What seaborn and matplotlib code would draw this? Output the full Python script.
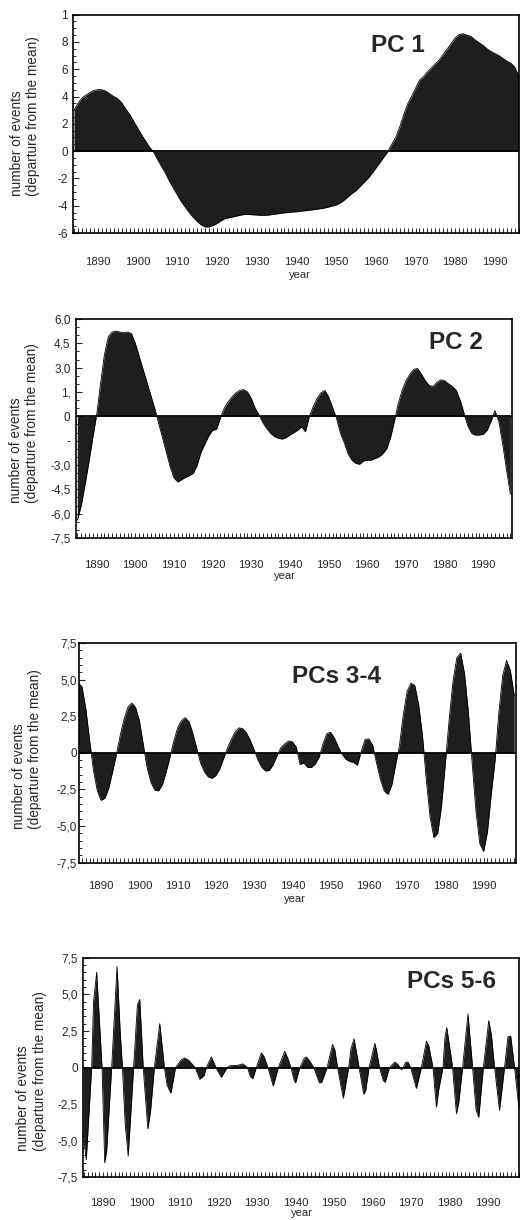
import numpy as np
import matplotlib.pyplot as plt
from matplotlib.ticker import MultipleLocator
import seaborn as sns

sns.set_style("ticks")
plt.rcParams['font.family'] = ['Liberation Sans', 'DejaVu Sans']

# PC 1, yearly values from 1884
pc1 = [3.0, 3.5, 3.9, 4.1, 4.3, 4.45, 4.5, 4.5, 4.4, 4.2,
       4.0, 3.85, 3.55, 3.1, 2.7, 2.2, 1.7, 1.2, 0.75, 0.3,
       -0.05, -0.6, -1.1, -1.6, -2.2, -2.7, -3.2, -3.7, -4.1, -4.5,
       -4.85, -5.15, -5.4, -5.55, -5.55, -5.45, -5.3, -5.1, -4.95, -4.88,
       -4.82, -4.75, -4.68, -4.64, -4.64, -4.66, -4.68, -4.7, -4.7, -4.68,
       -4.64, -4.6, -4.56, -4.52, -4.49, -4.46, -4.44, -4.4, -4.37, -4.34,
       -4.3, -4.26, -4.22, -4.17, -4.1, -4.02, -3.95, -3.8, -3.6, -3.35,
       -3.1, -2.9, -2.6, -2.3, -2.0, -1.65, -1.25, -0.85, -0.45, -0.05,
       0.5, 1.0, 1.75, 2.65, 3.45, 4.0, 4.6, 5.2, 5.45, 5.8,
       6.1, 6.4, 6.7, 7.1, 7.5, 7.9, 8.3, 8.55, 8.6, 8.5,
       8.4, 8.15, 7.95, 7.75, 7.5, 7.3, 7.15, 7.0, 6.8, 6.6,
       6.45, 6.15, 5.5]
years1 = np.arange(1884, 1884 + len(pc1))

# PC 2, yearly values from 1885
pc2 = [-6.4, -5.5, -4.2, -2.8, -1.3, 0.1, 2.0, 3.8, 4.9, 5.2,
       5.25, 5.2, 5.15, 5.2, 5.1, 4.5, 3.7, 2.9, 2.1, 1.3,
       0.5, -0.4, -1.3, -2.2, -3.1, -3.8, -4.05, -3.9, -3.75, -3.65,
       -3.5, -3.0, -2.2, -1.7, -1.2, -0.85, -0.8, -0.1, 0.5, 0.9,
       1.2, 1.45, 1.6, 1.65, 1.5, 1.1, 0.5, 0.1, -0.4, -0.75,
       -1.05, -1.25, -1.35, -1.4, -1.3, -1.15, -1.0, -0.85, -0.65, -0.95,
       0.0, 0.6, 1.1, 1.45, 1.6, 1.2, 0.55, -0.1, -1.0, -1.6,
       -2.3, -2.7, -2.9, -2.95, -2.75, -2.7, -2.7, -2.6, -2.5, -2.3,
       -2.0, -1.3, -0.3, 0.8, 1.6, 2.2, 2.6, 2.9, 2.95, 2.6,
       2.2, 1.9, 1.85, 2.1, 2.25, 2.2, 2.0, 1.85, 1.6, 1.0,
       0.2, -0.6, -1.05, -1.15, -1.15, -1.1, -0.85, -0.3, 0.35, -0.3,
       -1.7, -3.3, -4.8]
years2 = np.arange(1885, 1885 + len(pc2))

# PCs 3-4, yearly values from 1884
pc34 = [4.8, 4.5, 3.0, 0.8, -1.2, -2.6, -3.25, -3.1, -2.4, -1.3,
        -0.1, 1.2, 2.3, 3.1, 3.4, 3.1, 2.2, 0.6, -1.0, -2.0,
        -2.55, -2.6, -2.2, -1.3, -0.3, 0.8, 1.7, 2.2, 2.4, 2.1,
        1.3, 0.3, -0.7, -1.3, -1.65, -1.75, -1.55, -1.1, -0.4, 0.3,
        0.9, 1.4, 1.7, 1.65, 1.35, 0.85, 0.2, -0.5, -1.0, -1.25,
        -1.2, -0.8, -0.2, 0.35, 0.6, 0.8, 0.75, 0.4, -0.8, -0.7,
        -1.0, -1.0, -0.75, -0.3, 0.6, 1.3, 1.4, 1.0, 0.4, -0.1,
        -0.45, -0.6, -0.65, -0.85, 0.1, 0.9, 0.95, 0.5, -0.7, -1.8,
        -2.6, -2.85, -2.2, -0.8, 0.5, 2.6, 4.2, 4.75, 4.6, 3.3,
        1.2, -1.8, -4.4, -5.8, -5.5, -3.6, -0.7, 2.3, 4.9, 6.5,
        6.8, 5.4, 2.8, -0.7, -4.0, -6.2, -6.75, -5.4, -2.8, -0.5,
        2.8, 5.3, 6.3, 5.6, 3.9]
years34 = np.arange(1884, 1884 + len(pc34))

# PCs 5-6, read at the turning points and zero crossings
years56 = [1884.8, 1885.6, 1887.0, 1887.5, 1888.3, 1889.7, 1890.4, 1890.9, 1892.2, 1893.6,
           1894.4, 1895.0, 1895.7, 1896.5, 1897.9, 1898.9, 1899.5, 1900.4, 1901.6, 1902.3,
           1903.3, 1904.0, 1904.7, 1905.9, 1906.6, 1907.6, 1908.8, 1910.2, 1911.1, 1912.2,
           1913.9, 1915.1, 1916.2, 1916.8, 1918.1, 1919.3, 1920.7, 1922.2, 1923.0, 1925.0,
           1926.3, 1927.0, 1927.5, 1928.2, 1928.9, 1929.8, 1931.1, 1931.8, 1932.8, 1934.2,
           1935.5, 1937.2, 1938.0, 1938.8, 1939.6, 1940.0, 1941.1, 1942.3, 1942.8, 1943.5,
           1944.7, 1946.2, 1946.8, 1948.2, 1949.6, 1950.2, 1950.9, 1952.4, 1953.8, 1954.4,
           1955.2, 1956.5, 1957.7, 1958.2, 1959.1, 1960.6, 1961.0, 1961.8, 1962.8, 1963.3,
           1964.4, 1965.8, 1966.6, 1967.1, 1967.5, 1968.0, 1968.6, 1969.2, 1969.9, 1971.4,
           1972.7, 1974.0, 1974.6, 1975.7, 1976.6, 1977.2, 1978.3, 1978.8, 1979.3, 1980.8,
           1981.8, 1982.4, 1983.4, 1984.8, 1986.0, 1986.9, 1987.6, 1988.8, 1990.2, 1990.9,
           1991.7, 1993.0, 1994.3, 1995.2, 1995.9, 1996.9, 1998.1]
pc56 = [-4.5, -6.3, 0, 4.5, 6.5, 0, -6.5, -5.7, 0, 6.9,
        2.5, 0, -3.8, -6.05, 0, 4.3, 4.65, 0, -4.2, -3.0,
        0, 1.5, 3.0, 0, -1.2, -1.75, 0, 0.5, 0.65, 0.5,
        0, -0.8, -0.55, 0, 0.72, 0, -0.67, 0, 0.12, 0.15,
        0.25, 0.1, 0, -0.6, -0.75, 0, 1.0, 0.75, 0, -1.27,
        0, 1.1, 0.6, 0, -0.85, -1.05, 0, 0.65, 0.72, 0.5,
        0, -1.05, -1.0, 0, 1.57, 1.2, 0, -2.1, 0, 1.3,
        1.96, 0, -1.82, -1.6, 0, 1.64, 1.2, 0, -0.9, -1.0,
        0, 0.37, 0.2, 0, -0.15, 0, 0.35, 0.37, 0, -1.43,
        0, 1.8, 1.5, 0, -2.7, -1.5, 0, 2.0, 2.72, 0,
        -3.16, -2.4, 0, 3.65, 0, -2.9, -3.4, 0, 3.2, 2.2,
        0, -2.93, 0, 2.1, 2.15, 0, -2.9]

decades = list(range(1890, 2000, 10))

panels = [
    dict(x=years1, y=pc1, title="PC 1", rect=[0.139, 0.809, 0.851, 0.179],
         xlim=(1883.7, 1996.0), ylim=(-6, 10),
         yticks=[10, 8, 6, 4, 2, 0, -2, -4, -6],
         ylabels=["1", "8", "6", "4", "2", "0", "-2", "-4", "-6"],
         tpos=(0.729, 0.858), ylab=(-0.074, 0.537), xlab=(0.51, -0.17), xpad=17, ypad=3.5),
    dict(x=years2, y=pc2, title="PC 2", rect=[0.145, 0.559, 0.832, 0.1795],
         xlim=(1884.65, 1997.4), ylim=(-7.5, 6.0),
         yticks=[6.0, 4.5, 3.0, 1.5, 0, -1.5, -3.0, -4.5, -6.0, -7.5],
         ylabels=["6,0", "4,5", "3,0", "1,", "0", "-", "-3,0", "-4,5", "-6,0", "-7,5"],
         tpos=(0.871, 0.895), ylab=(-0.085, 0.525), xlab=(0.48, -0.151), xpad=16, ypad=4),
    dict(x=years34, y=pc34, title="PCs 3-4", rect=[0.151, 0.293, 0.834, 0.18],
         xlim=(1884.25, 1998.5), ylim=(-7.5, 7.5),
         yticks=[7.5, 5.0, 2.5, 0, -2.5, -5.0, -7.5],
         ylabels=["7,5", "5,0", "2,5", "0", "-2,5", "-5,0", "-7,5"],
         tpos=(0.590, 0.849), ylab=(-0.085, 0.516), xlab=(0.494, -0.142), xpad=13, ypad=1.5),
    dict(x=years56, y=pc56, title="PCs 5-6", rect=[0.158, 0.035, 0.832, 0.18],
         xlim=(1884.7, 1998.0), ylim=(-7.5, 7.5),
         yticks=[7.5, 5.0, 2.5, 0, -2.5, -5.0, -7.5],
         ylabels=["7,5", "5,0", "2,5", "0", "-2,5", "-5,0", "-7,5"],
         tpos=(0.846, 0.89), ylab=(-0.083, 0.484), xlab=(0.502, -0.14), xpad=15, ypad=3.5),
]

fig = plt.figure(figsize=(5.24, 12.2), dpi=100)

for p in panels:
    ax = fig.add_axes(p["rect"])
    ax.fill_between(p["x"], p["y"], 0, color="#1e1e1e", linewidth=0)
    sns.lineplot(x=p["x"], y=p["y"], ax=ax, color="black", linewidth=0.6,
                 estimator=None, sort=False)
    ax.axhline(0, color="black", linewidth=1.3)

    ax.set_xlim(*p["xlim"])
    ax.set_ylim(*p["ylim"])
    ax.set_xticks(decades)
    ax.set_xticklabels([str(d) for d in decades])
    ax.xaxis.set_minor_locator(MultipleLocator(1))
    ax.set_yticks(p["yticks"])
    ax.set_yticklabels(p["ylabels"])
    ax.yaxis.set_minor_locator(MultipleLocator(0.5))

    ax.tick_params(axis="x", which="both", direction="in", length=3.5, width=0.7,
                   pad=p["xpad"], labelsize=8.2, bottom=True, top=False)
    ax.tick_params(axis="y", which="major", direction="in", length=4.5, width=0.8,
                   pad=p["ypad"], labelsize=8.5, left=True, right=False)
    ax.tick_params(axis="y", which="minor", direction="in", length=2.5, width=0.7,
                   left=True, right=False)

    for s in ax.spines.values():
        s.set_visible(True)
        s.set_linewidth(1.2)
        s.set_color("black")

    ax.set_ylabel("number of events\n(departure from the mean)", fontsize=9.8,
                  multialignment="left")
    ax.yaxis.set_label_coords(*p["ylab"])
    ax.set_xlabel("year", fontsize=8)
    ax.xaxis.set_label_coords(*p["xlab"])

    ax.text(p["tpos"][0], p["tpos"][1], p["title"], transform=ax.transAxes,
            ha="center", va="center", fontsize=17.5, fontweight="bold")

fig.savefig("out.png", dpi=100, facecolor="white")
